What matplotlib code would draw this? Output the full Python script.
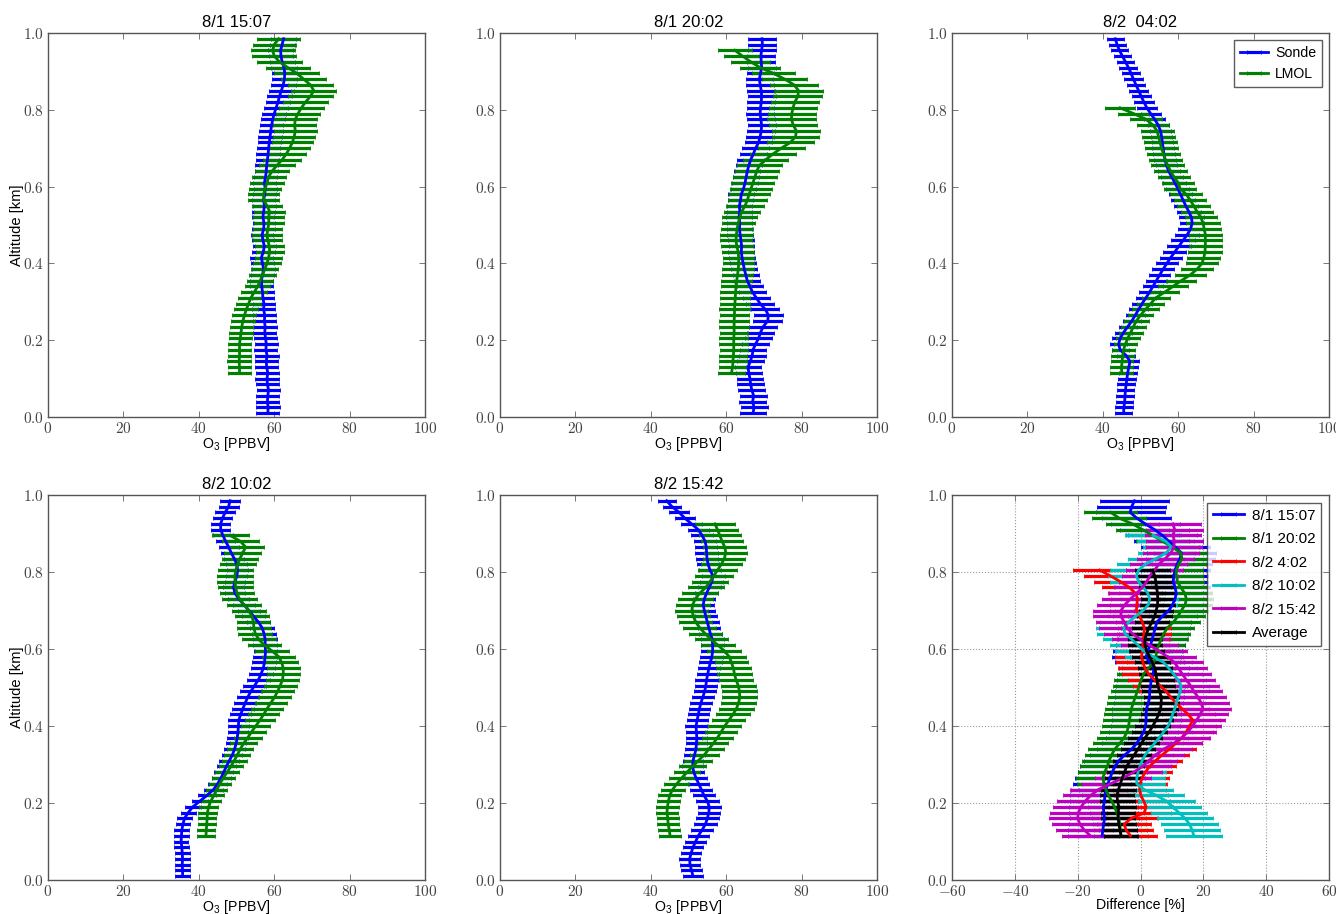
import numpy as np
import matplotlib
matplotlib.use('Agg')
import matplotlib.pyplot as plt
from matplotlib.ticker import FuncFormatter, MultipleLocator

plt.rcParams['font.family'] = ['Liberation Sans', 'DejaVu Sans']
plt.rcParams['mathtext.fontset'] = 'cm'

# ---------------- data ----------------
SONDE_ALT0 = 0.010   # km, first sonde level
LMOL_ALT0 = 0.115    # km, first lidar level
ALT_STEP = 0.015     # km, vertical resolution

titles = ['8/1 15:07', '8/1 20:02', '8/2  04:02', '8/2 10:02', '8/2 15:42']

# Ozonesonde profiles (ppbv)
sonde_0801_1507 = [58.3, 58.4, 58.2, 58.3, 58.5, 58.2, 58.1, 58.3, 58.0, 57.9,
                   58.1, 57.8, 57.9, 57.7, 57.5, 57.6, 57.4, 57.5, 57.2, 57.3,
                   57.0, 56.9, 56.7, 56.6, 56.9, 57.2, 56.9, 56.6, 57.1, 57.4,
                   57.0, 56.8, 57.2, 57.3, 57.0, 57.2, 57.4, 57.2, 57.5, 57.6,
                   57.4, 57.7, 57.9, 58.0, 58.2, 58.4, 58.5, 58.7, 58.9, 59.1,
                   59.3, 59.6, 60.0, 60.5, 61.0, 61.4, 61.9, 62.4, 62.7, 62.8,
                   62.6, 62.1, 61.8, 61.7, 62.1, 62.5]
sonde_0801_2002 = [67.1, 67.4, 67.0, 67.3, 66.8, 66.5, 66.3, 66.0, 65.8, 66.4,
                   66.9, 67.1, 67.8, 68.6, 69.1, 69.8, 71.0, 71.2, 70.4, 69.0,
                   68.0, 67.0, 66.3, 65.6, 65.2, 64.8, 64.5, 64.2, 64.0, 64.1,
                   63.9, 63.7, 63.5, 63.6, 63.4, 63.6, 63.5, 63.8, 64.0, 64.6,
                   65.0, 65.3, 65.6, 66.0, 66.5, 67.2, 67.8, 68.6, 69.0, 69.3,
                   69.4, 69.2, 69.0, 69.1, 69.3, 69.4, 69.3, 69.0, 68.8, 69.1,
                   69.4, 69.3, 69.2, 69.4, 69.6, 69.5]
sonde_0802_0402 = [45.5, 45.6, 45.8, 45.9, 46.0, 46.2, 46.4, 46.6, 46.9, 47.2,
                   46.2, 44.6, 44.2, 44.6, 45.5, 46.6, 47.7, 48.6, 49.5, 50.4,
                   51.4, 52.4, 53.3, 54.2, 55.1, 56.0, 57.0, 58.0, 59.1, 60.2,
                   61.3, 62.4, 63.3, 63.7, 63.5, 62.8, 62.0, 61.3, 60.6, 59.9,
                   59.1, 58.3, 57.5, 56.9, 56.5, 56.2, 56.0, 55.8, 55.6, 55.3,
                   54.7, 53.8, 52.7, 51.7, 50.9, 50.2, 49.5, 48.8, 48.1, 47.5,
                   46.8, 46.0, 45.2, 44.4, 43.8, 43.3]
sonde_0802_1002 = [35.7, 35.7, 35.6, 35.7, 35.6, 35.5, 35.3, 35.4, 35.5, 35.8,
                   36.2, 37.2, 38.4, 40.3, 42.2, 43.9, 45.0, 45.9, 46.6, 47.3,
                   48.1, 48.9, 49.5, 49.9, 50.2, 50.4, 50.5, 50.6, 51.1, 51.7,
                   52.3, 53.0, 53.8, 54.8, 55.8, 56.5, 57.1, 57.4, 57.6, 57.7,
                   57.6, 57.6, 57.3, 56.8, 55.8, 54.5, 53.3, 52.0, 50.6, 49.6,
                   49.2, 49.6, 50.1, 50.3, 50.1, 49.4, 48.6, 47.9, 47.1, 46.4,
                   45.8, 45.8, 46.3, 47.0, 47.9, 48.3]
sonde_0802_1542 = [51.2, 50.8, 50.4, 50.3, 50.7, 51.2, 51.9, 52.6, 53.6, 54.5,
                   55.0, 55.4, 55.5, 55.0, 54.1, 53.4, 52.7, 52.0, 51.4, 51.1,
                   51.2, 51.6, 52.0, 52.1, 52.2, 52.1, 52.0, 52.3, 52.6, 52.9,
                   53.3, 53.8, 54.3, 54.6, 54.8, 55.1, 55.4, 55.8, 56.2, 56.4,
                   56.4, 56.3, 55.8, 55.4, 55.0, 54.6, 54.2, 53.9, 54.2, 54.8,
                   55.5, 56.2, 56.5, 55.7, 55.2, 54.9, 54.8, 54.7, 54.4, 53.6,
                   52.6, 50.8, 49.0, 47.5, 45.6, 44.2]
# sonde relative uncertainty (%) per launch
sonde_err_pct = [5.3, 5.3, 5.1, 5.5, 5.4]

# LMOL lidar profiles (ppbv) and uncertainties (ppbv)
lmol_0801_1507 = [50.8, 50.8, 50.7, 50.8, 50.8, 50.8, 51.0, 51.2, 51.4, 51.7,
                  52.1, 52.6, 53.2, 53.8, 54.7, 55.6, 56.3, 56.9, 57.5, 58.1,
                  58.5, 58.8, 58.7, 58.3, 58.1, 58.3, 58.6, 58.5, 58.8, 58.1,
                  57.2, 57.2, 57.6, 58.1, 58.5, 59.4, 60.7, 62.1, 63.2, 64.1,
                  64.8, 65.3, 65.6, 65.4, 65.6, 66.3, 67.2, 68.3, 69.6, 70.5,
                  69.6, 67.8, 66.0, 63.6, 61.4, 60.0, 59.6, 60.0, 61.2]
lmol_err_0801_1507 = [3.1, 3.1, 3.1, 3.1, 3.1, 3.1, 3.1, 3.1, 3.1, 3.1,
                      3.2, 3.2, 3.3, 3.3, 3.4, 3.4, 3.5, 3.5, 3.6, 3.6,
                      3.7, 3.7, 3.8, 3.8, 3.9, 3.9, 4.0, 4.0, 4.1, 4.1,
                      4.2, 4.2, 4.3, 4.4, 4.5, 4.6, 4.8, 5.0, 5.2, 5.4,
                      5.5, 5.6, 5.7, 5.7, 5.8, 5.8, 5.9, 5.9, 6.0, 6.0,
                      6.0, 6.0, 6.0, 5.9, 5.9, 5.8, 5.8, 5.7, 5.7]
lmol_0801_2002 = [61.4, 61.7, 61.8, 61.9, 62.0, 62.0, 62.0, 62.1, 62.1, 62.1,
                  62.2, 62.2, 62.3, 62.4, 62.5, 62.6, 62.8, 63.0, 63.2, 63.3,
                  63.3, 63.2, 62.8, 62.6, 62.7, 62.9, 63.2, 63.6, 64.1, 65.0,
                  65.6, 66.1, 66.6, 67.1, 67.6, 68.1, 68.8, 70.5, 72.4, 74.6,
                  77.0, 78.4, 78.6, 77.8, 77.3, 77.4, 77.7, 78.2, 79.0, 79.2,
                  78.0, 75.5, 72.5, 69.0, 66.5, 64.3, 62.3]
lmol_err_0801_2002 = [3.6, 3.6, 3.7, 3.7, 3.7, 3.8, 3.8, 3.8, 3.9, 3.9,
                      3.9, 4.0, 4.0, 4.0, 4.1, 4.1, 4.1, 4.2, 4.2, 4.2,
                      4.2, 4.2, 4.2, 4.3, 4.3, 4.3, 4.4, 4.6, 4.8, 5.0,
                      5.2, 5.4, 5.6, 5.7, 5.8, 5.8, 5.9, 6.0, 6.1, 6.2,
                      6.2, 6.3, 6.4, 6.4, 6.4, 6.4, 6.4, 6.4, 6.5, 6.5,
                      6.3, 6.0, 5.7, 5.4, 5.1, 4.8, 4.6]
lmol_0802_0402 = [45.0, 45.0, 45.1, 45.3, 45.5, 46.0, 46.6, 47.4, 48.1, 48.9,
                  50.0, 51.3, 52.7, 54.0, 56.4, 58.6, 60.8, 63.2, 65.0, 66.3,
                  66.8, 67.1, 67.2, 67.2, 67.2, 66.9, 66.6, 66.0, 65.0, 64.1,
                  63.2, 62.1, 60.5, 60.0, 58.9, 58.0, 57.2, 56.6, 56.1, 55.6,
                  55.2, 54.8, 54.4, 53.3, 51.5, 48.2, 44.6]
lmol_err_0802_0402 = [3.0, 3.0, 3.0, 3.1, 3.1, 3.1, 3.2, 3.2, 3.3, 3.3,
                      3.4, 3.5, 3.6, 3.7, 3.8, 3.9, 4.0, 4.1, 4.2, 4.3,
                      4.4, 4.4, 4.4, 4.4, 4.4, 4.4, 4.4, 4.3, 4.3, 4.3,
                      4.3, 4.3, 4.3, 4.3, 4.3, 4.3, 4.3, 4.3, 4.4, 4.4,
                      4.4, 4.4, 4.4, 4.3, 4.2, 4.1, 4.0]
lmol_0802_1002 = [41.9, 42.0, 42.1, 42.2, 42.3, 42.6, 43.2, 44.0, 44.8, 45.6,
                  46.5, 47.5, 48.5, 49.4, 50.2, 51.0, 51.9, 53.0, 54.0, 55.1,
                  56.2, 57.2, 58.1, 59.1, 60.1, 60.9, 61.6, 62.2, 62.4, 62.4,
                  62.0, 61.2, 59.4, 57.4, 55.9, 55.0, 54.6, 54.5, 54.1, 53.2,
                  52.0, 50.8, 50.1, 49.8, 49.6, 49.6, 49.8, 50.3, 50.9, 51.7,
                  52.4, 51.0, 48.3]
lmol_err_0802_1002 = [2.4, 2.4, 2.4, 2.4, 2.5, 2.5, 2.6, 2.7, 2.8, 2.9,
                      3.0, 3.1, 3.2, 3.3, 3.4, 3.5, 3.6, 3.7, 3.8, 3.9,
                      4.0, 4.1, 4.2, 4.3, 4.3, 4.4, 4.4, 4.4, 4.4, 4.4,
                      4.4, 4.4, 4.4, 4.4, 4.5, 4.5, 4.5, 4.5, 4.5, 4.5,
                      4.6, 4.6, 4.6, 4.6, 4.7, 4.7, 4.7, 4.8, 4.8, 4.9,
                      4.9, 4.9, 4.9]
lmol_0802_1542 = [45.1, 44.9, 44.6, 44.5, 44.3, 44.4, 44.7, 45.0, 45.8, 46.9,
                  48.2, 49.6, 51.1, 52.6, 54.2, 55.4, 56.6, 57.7, 58.7, 59.6,
                  60.7, 61.8, 62.7, 63.3, 63.6, 63.5, 63.2, 62.6, 62.2, 61.9,
                  61.4, 60.8, 59.5, 57.8, 56.0, 54.4, 53.0, 51.9, 51.3, 50.9,
                  51.1, 51.8, 53.0, 54.6, 55.7, 56.7, 57.7, 58.7, 59.5, 59.9,
                  59.6, 58.9, 58.3, 57.7, 57.0]
lmol_err_0802_1542 = [2.9, 2.9, 2.9, 2.9, 2.9, 3.0, 3.0, 3.1, 3.2, 3.3,
                      3.4, 3.5, 3.6, 3.7, 3.8, 3.9, 4.0, 4.1, 4.2, 4.3,
                      4.4, 4.5, 4.6, 4.6, 4.6, 4.6, 4.6, 4.6, 4.6, 4.6,
                      4.5, 4.5, 4.5, 4.5, 4.4, 4.4, 4.4, 4.4, 4.4, 4.4,
                      4.5, 4.6, 4.7, 4.8, 4.9, 5.0, 5.2, 5.4, 5.6, 5.7,
                      5.7, 5.6, 5.5, 5.4, 5.3]

sonde_profiles = [sonde_0801_1507, sonde_0801_2002, sonde_0802_0402,
                  sonde_0802_1002, sonde_0802_1542]
lmol_profiles = [lmol_0801_1507, lmol_0801_2002, lmol_0802_0402,
                 lmol_0802_1002, lmol_0802_1542]
lmol_errors = [lmol_err_0801_1507, lmol_err_0801_2002, lmol_err_0802_0402,
               lmol_err_0802_1002, lmol_err_0802_1542]

# Relative differences LMOL vs sonde (%)
diff_labels = ['8/1 15:07', '8/1 20:02', '8/2 4:02', '8/2 10:02', '8/2 15:42', 'Average']
diff_0801_1507 = [-12.2, -12.0, -11.7, -11.5, -11.7, -11.8, -11.5, -11.3, -11.0, -10.4,
                  -9.7, -9.0, -8.1, -6.9, -5.0, -2.8, -1.2, 0.0, 1.0, 1.6,
                  1.8, 1.8, 1.9, 2.5, 2.9, 2.9, 3.2, 3.4, 4.0, 4.3,
                  2.9, 1.8, 2.2, 3.2, 3.7, 4.2, 4.7, 5.2, 7.0, 9.0,
                  10.2, 11.0, 11.4, 11.0, 10.4, 10.6, 11.0, 11.6, 12.6, 13.0,
                  11.0, 9.0, 7.0, 4.5, 1.5, -1.2, -3.3, -2.8, -1.9]
diff_0801_2002 = [-6.2, -6.4, -6.6, -6.9, -7.5, -8.3, -9.2, -10.2, -11.0, -11.6,
                  -12.0, -11.4, -10.6, -10.0, -9.2, -8.2, -6.6, -5.2, -4.3, -3.8,
                  -3.5, -3.2, -2.9, -2.3, -1.7, -1.0, -0.4, 0.2, 1.0, 2.5,
                  4.2, 5.0, 5.0, 5.8, 6.6, 7.4, 8.6, 10.5, 11.9, 13.0,
                  14.2, 14.6, 14.1, 12.8, 11.8, 11.4, 11.4, 12.2, 13.2, 12.8,
                  10.0, 7.0, 3.9, 0.7, -2.6, -6.8, -9.5]
diff_0802_0402 = [-3.2, -4.6, -5.2, -3.0, 1.2, 1.8, 1.0, 0.1, -0.3, -0.1,
                  0.5, 1.5, 2.9, 4.8, 6.9, 9.2, 11.2, 13.2, 14.6, 15.6,
                  16.7, 15.2, 13.2, 11.3, 9.6, 8.1, 6.2, 4.5, 2.6, 1.4,
                  0.8, 0.3, 0.6, 0.7, 0.9, 1.1, 1.2, 0.6, -0.3, -1.3,
                  -1.2, -0.9, -1.6, -3.6, -6.4, -9.6, -13.0]
diff_0802_1002 = [17.0, 16.4, 15.6, 14.2, 12.2, 10.3, 8.2, 5.0, 1.2, -1.2,
                  -1.2, -0.8, -0.2, 0.5, 1.5, 2.9, 4.5, 6.0, 7.4, 8.8,
                  9.6, 10.2, 10.9, 11.4, 12.0, 12.7, 12.9, 11.9, 10.5, 9.0,
                  7.4, 4.0, 1.0, -0.8, -2.8, -5.0, -5.3, -3.8, -1.5, 0.8,
                  2.5, 2.9, 2.3, 0.9, -0.6, -1.3, -0.6, 1.5, 5.0, 8.2,
                  9.8, 8.0, 4.0]
diff_0802_1542 = [-16.0, -17.9, -19.3, -20.0, -19.8, -18.9, -17.6, -15.8, -13.4, -9.5,
                  -5.6, -2.2, 0.6, 2.7, 4.8, 7.4, 10.6, 13.2, 15.1, 16.6,
                  17.8, 19.0, 19.9, 19.3, 18.3, 17.0, 15.9, 14.6, 13.3, 12.1,
                  10.8, 8.6, 5.8, 2.9, 0.0, -2.6, -4.3, -5.2, -6.2, -6.2,
                  -5.0, -3.2, -1.3, 0.6, 2.0, 3.0, 4.5, 5.8, 7.9, 9.7,
                  10.6, 10.8, 10.3, 10.9, 10.3]
diff_average = [-6.2, -6.5, -6.9, -7.1, -7.1, -6.9, -7.3, -7.5, -7.0, -6.4,
                -5.8, -5.1, -4.4, -3.2, -2.0, -0.8, 0.3, 1.5, 2.8, 3.9,
                4.9, 5.8, 6.4, 6.6, 6.6, 6.1, 5.5, 5.2, 4.9, 4.6,
                3.8, 2.9, 1.9, 1.4, 1.4, 1.9, 2.7, 3.6, 4.5, 5.0,
                5.4, 5.5, 5.4, 5.1, 4.9, 4.5, 3.9]
diff_series = [diff_0801_1507, diff_0801_2002, diff_0802_0402,
               diff_0802_1002, diff_0802_1542, diff_average]
diff_err = [11.0, 8.5, 8.5, 9.0, 9.0, 5.5]   # % half-width of error bars
diff_colors = ['b', 'g', 'r', 'c', 'm', 'k']

# ---------------- figure ----------------
W, H = 1336, 914
fig = plt.figure(figsize=(W / 100, H / 100), dpi=100)

lefts = [48, 500, 952]
axw = 377
rows = [(33, 417), (495, 880)]


def make_ax(col, row):
    top, bot = rows[row]
    return fig.add_axes([lefts[col] / W, 1 - bot / H, axw / W, (bot - top) / H])


TICK_COL = '#444444'
SPINE_COL = '#555555'


def style_ax(ax, xfmt):
    for s in ax.spines.values():
        s.set_color(SPINE_COL)
        s.set_linewidth(1.0)
    ax.tick_params(direction='in', length=4, width=0.7, colors='#777777',
                   top=True, right=True, labelsize=11, pad=3,
                   labelcolor=TICK_COL)
    ax.yaxis.set_major_locator(MultipleLocator(0.2))
    ax.xaxis.set_major_locator(MultipleLocator(20))
    ax.yaxis.set_major_formatter(FuncFormatter(lambda v, p: r'$%.1f$' % v))
    ax.xaxis.set_major_formatter(FuncFormatter(xfmt))
    ax.set_ylim(0, 1.0)


def draw(ax, x, alt, err, color, label, bz):
    line, caps, bars = ax.errorbar(x, alt, xerr=err, color=color, lw=2.0,
                                   elinewidth=2.3, capsize=1.5, capthick=0.6,
                                   label=label)
    line.set_zorder(3)
    for b in bars:
        b.set_zorder(bz)
    for c in caps:
        c.set_zorder(bz)


def style_legend(leg):
    leg.get_frame().set_edgecolor('#333333')
    leg.get_frame().set_linewidth(1.0)


profile_axes = [make_ax(0, 0), make_ax(1, 0), make_ax(2, 0),
                make_ax(0, 1), make_ax(1, 1)]

for k, ax in enumerate(profile_axes):
    s_vals = np.array(sonde_profiles[k])
    s_alt = SONDE_ALT0 + ALT_STEP * np.arange(len(s_vals))
    s_err = s_vals * sonde_err_pct[k] / 100.0
    l_vals = np.array(lmol_profiles[k])
    l_alt = LMOL_ALT0 + ALT_STEP * np.arange(len(l_vals))
    l_err = np.array(lmol_errors[k])
    draw(ax, s_vals, s_alt, s_err, 'b', 'Sonde', 1.8)
    draw(ax, l_vals, l_alt, l_err, 'g', 'LMOL', 1.9)
    style_ax(ax, lambda v, p: r'$%d$' % int(round(v)))
    ax.set_xlim(0, 100)
    ax.set_title(titles[k], fontsize=12, pad=4)
    ax.set_xlabel(r'O$_\mathregular{3}$ [PPBV]', fontsize=10.2, labelpad=-1)
    if k in (0, 3):
        ax.set_ylabel('Altitude [km]', fontsize=10.6, labelpad=-1)
    if k == 2:
        leg = ax.legend(loc='upper right', fontsize=10.2, fancybox=False,
                        handlelength=2.0, handletextpad=0.5,
                        borderaxespad=0.5, labelspacing=0.5)
        style_legend(leg)

# difference panel
axd = make_ax(2, 1)
for k, vals in enumerate(diff_series):
    v = np.array(vals)
    alt = LMOL_ALT0 + ALT_STEP * np.arange(len(v))
    draw(axd, v, alt, diff_err[k], diff_colors[k], diff_labels[k], 1.8 + 0.02 * k)
style_ax(axd, lambda v, p: r'$%d$' % int(round(v)))
axd.set_xlim(-60, 60)
axd.grid(True, color='#999999', linestyle=':', linewidth=0.8)
axd.set_axisbelow(True)
axd.set_xlabel('Difference [%]', fontsize=10.2, labelpad=-1)
legd = axd.legend(loc='upper right', fontsize=11, fancybox=False,
                  handlelength=2.0, handletextpad=0.5,
                  borderaxespad=0.5, labelspacing=0.62)
style_legend(legd)

fig.savefig('out.png', dpi=100)
